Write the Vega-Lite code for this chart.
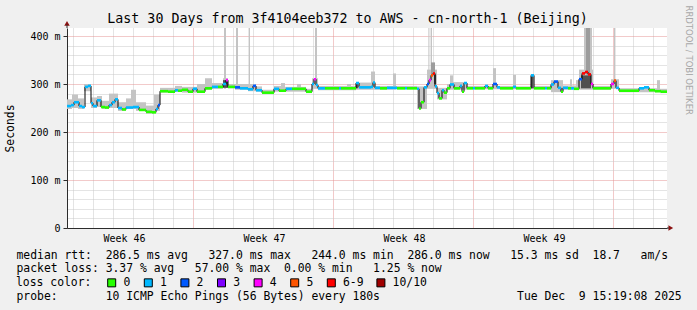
{
  "$schema": "https://vega.github.io/schema/vega-lite/v6.json",
  "width": 600,
  "height": 200,
  "autosize": {"type": "none"},
  "padding": {"left": 67, "top": 28, "right": 30, "bottom": 82},
  "background": "#f0f0f0",
  "config": {"view": {"stroke": null, "fill": "white"}, "font": "DejaVu Sans Mono", "axis": {"labelOverlap": false}},
  "title": {"text": "Last 30 Days from 3f4104eeb372 to AWS - cn-north-1 (Beijing)", "font": "DejaVu Sans Mono", "fontSize": 13.3, "fontWeight": "normal", "color": "black", "anchor": "middle", "frame": "group", "dx": -19.5, "offset": -31, "baseline": "alphabetic"},
  "datasets": {
    "median": [
      {"d":0,"e":0.2,"m":254,"l":"1"},{"d":0.2,"e":0.35,"m":256,"l":"1"},{"d":0.35,"e":0.6,"m":262,"l":"1"},{"d":0.6,"e":0.75,"m":254,"l":"1"},{"d":0.75,"e":0.9,"m":252,"l":"1"},{"d":0.9,"e":1.05,"m":294,"l":"1"},{"d":1.05,"e":1.2,"m":296,"l":"1"},{"d":1.2,"e":1.3,"m":260,"l":"1"},{"d":1.3,"e":1.5,"m":254,"l":"1"},{"d":1.5,"e":1.7,"m":266,"l":"1"},{"d":1.7,"e":1.9,"m":252,"l":"0"},{"d":1.9,"e":2.1,"m":251,"l":"0"},{"d":2.1,"e":2.25,"m":256,"l":"1"},{"d":2.25,"e":2.4,"m":262,"l":"1"},{"d":2.4,"e":2.55,"m":268,"l":"1"},{"d":2.55,"e":2.75,"m":250,"l":"1"},{"d":2.75,"e":2.95,"m":247,"l":"0"},{"d":2.95,"e":3.3,"m":251,"l":"1"},{"d":3.3,"e":3.6,"m":252,"l":"1"},{"d":3.6,"e":3.95,"m":246,"l":"0"},{"d":3.95,"e":4.25,"m":242,"l":"0"},{"d":4.25,"e":4.45,"m":241,"l":"0"},{"d":4.45,"e":4.55,"m":248,"l":"1"},{"d":4.55,"e":4.65,"m":256,"l":"2"},{"d":4.65,"e":5.05,"m":285,"l":"0"},{"d":5.05,"e":5.4,"m":284,"l":"0"},{"d":5.4,"e":5.55,"m":287,"l":"1"},{"d":5.55,"e":5.75,"m":286,"l":"0"},{"d":5.75,"e":6.05,"m":288,"l":"0"},{"d":6.05,"e":6.3,"m":284,"l":"0"},{"d":6.3,"e":6.5,"m":290,"l":"1"},{"d":6.5,"e":6.9,"m":284,"l":"0"},{"d":6.9,"e":7.25,"m":291,"l":"0"},{"d":7.25,"e":7.55,"m":294,"l":"1"},{"d":7.55,"e":7.8,"m":294,"l":"0"},{"d":7.8,"e":7.95,"m":300,"l":"1"},{"d":7.95,"e":8.05,"m":308,"l":"4"},{"d":8.05,"e":8.4,"m":294,"l":"0"},{"d":8.4,"e":8.65,"m":293,"l":"2"},{"d":8.65,"e":9.05,"m":291,"l":"1"},{"d":9.05,"e":9.3,"m":289,"l":"1"},{"d":9.3,"e":9.45,"m":296,"l":"2"},{"d":9.45,"e":9.75,"m":287,"l":"1"},{"d":9.75,"e":10.35,"m":282,"l":"0"},{"d":10.35,"e":10.6,"m":290,"l":"1"},{"d":10.6,"e":10.95,"m":286,"l":"0"},{"d":10.95,"e":11.25,"m":290,"l":"1"},{"d":11.25,"e":11.95,"m":290,"l":"0"},{"d":11.95,"e":12.25,"m":284,"l":"0"},{"d":12.25,"e":12.35,"m":300,"l":"1"},{"d":12.35,"e":12.45,"m":310,"l":"4"},{"d":12.45,"e":12.55,"m":298,"l":"1"},{"d":12.55,"e":12.9,"m":291,"l":"1"},{"d":12.9,"e":13.6,"m":291,"l":"0"},{"d":13.6,"e":13.7,"m":291,"l":"1"},{"d":13.7,"e":14.45,"m":291,"l":"0"},{"d":14.45,"e":14.6,"m":302,"l":"1"},{"d":14.6,"e":15.2,"m":293,"l":"1"},{"d":15.2,"e":15.3,"m":294,"l":"1"},{"d":15.3,"e":15.4,"m":303,"l":"1"},{"d":15.4,"e":15.65,"m":292,"l":"1"},{"d":15.65,"e":16,"m":291,"l":"0"},{"d":16,"e":16.5,"m":292,"l":"1"},{"d":16.5,"e":16.9,"m":291,"l":"0"},{"d":16.9,"e":17,"m":291,"l":"1"},{"d":17,"e":17.5,"m":291,"l":"0"},{"d":17.5,"e":17.6,"m":290,"l":"1"},{"d":17.6,"e":17.7,"m":249,"l":"0"},{"d":17.7,"e":17.85,"m":262,"l":"0"},{"d":17.85,"e":18,"m":293,"l":"1"},{"d":18,"e":18.1,"m":300,"l":"2"},{"d":18.1,"e":18.2,"m":308,"l":"4"},{"d":18.2,"e":18.3,"m":318,"l":"5"},{"d":18.3,"e":18.4,"m":322,"l":"6-9"},{"d":18.4,"e":18.5,"m":295,"l":"1"},{"d":18.5,"e":18.6,"m":281,"l":"1"},{"d":18.6,"e":18.75,"m":270,"l":"0"},{"d":18.75,"e":18.85,"m":287,"l":"1"},{"d":18.85,"e":19,"m":282,"l":"0"},{"d":19,"e":19.15,"m":291,"l":"0"},{"d":19.15,"e":19.35,"m":299,"l":"1"},{"d":19.35,"e":19.65,"m":291,"l":"0"},{"d":19.65,"e":19.75,"m":296,"l":"1"},{"d":19.75,"e":19.85,"m":284,"l":"0"},{"d":19.85,"e":20,"m":302,"l":"1"},{"d":20,"e":20.3,"m":291,"l":"0"},{"d":20.3,"e":20.4,"m":291,"l":"1"},{"d":20.4,"e":20.9,"m":291,"l":"0"},{"d":20.9,"e":21.05,"m":296,"l":"1"},{"d":21.05,"e":21.3,"m":291,"l":"0"},{"d":21.3,"e":21.5,"m":300,"l":"2"},{"d":21.5,"e":21.65,"m":293,"l":"1"},{"d":21.65,"e":22.3,"m":291,"l":"0"},{"d":22.3,"e":22.45,"m":294,"l":"1"},{"d":22.45,"e":23.2,"m":291,"l":"0"},{"d":23.2,"e":23.35,"m":318,"l":"1"},{"d":23.35,"e":23.9,"m":291,"l":"0"},{"d":23.9,"e":24,"m":291,"l":"1"},{"d":24,"e":24.2,"m":291,"l":"0"},{"d":24.2,"e":24.35,"m":299,"l":"1"},{"d":24.35,"e":24.55,"m":305,"l":"2"},{"d":24.55,"e":24.7,"m":292,"l":"1"},{"d":24.7,"e":24.8,"m":284,"l":"0"},{"d":24.8,"e":25.05,"m":292,"l":"1"},{"d":25.05,"e":25.2,"m":291,"l":"0"},{"d":25.2,"e":25.35,"m":291,"l":"1"},{"d":25.35,"e":25.6,"m":290,"l":"0"},{"d":25.6,"e":25.75,"m":310,"l":"2"},{"d":25.75,"e":25.9,"m":322,"l":"6-9"},{"d":25.9,"e":26.05,"m":325,"l":"6-9"},{"d":26.05,"e":26.2,"m":320,"l":"6-9"},{"d":26.2,"e":26.3,"m":300,"l":"4"},{"d":26.3,"e":27.2,"m":291,"l":"0"},{"d":27.2,"e":27.35,"m":300,"l":"4"},{"d":27.35,"e":27.45,"m":307,"l":"5"},{"d":27.45,"e":27.6,"m":292,"l":"1"},{"d":27.6,"e":28.6,"m":286,"l":"0"},{"d":28.6,"e":28.85,"m":291,"l":"1"},{"d":28.85,"e":29.1,"m":293,"l":"1"},{"d":29.1,"e":29.4,"m":287,"l":"0"},{"d":29.4,"e":29.7,"m":285,"l":"0"},{"d":29.7,"e":30,"m":284,"l":"0"}
    ],
    "smoke": [
      {"d":0,"e":0.25,"lo":248,"hi":268,"g":1},{"d":0.25,"e":0.55,"lo":250,"hi":278,"g":1},{"d":0.55,"e":0.85,"lo":248,"hi":270,"g":1},{"d":0.85,"e":1.2,"lo":285,"hi":300,"g":1},{"d":1.2,"e":1.5,"lo":250,"hi":272,"g":1},{"d":1.5,"e":1.75,"lo":252,"hi":275,"g":1},{"d":1.75,"e":2.1,"lo":248,"hi":265,"g":1},{"d":2.1,"e":2.55,"lo":250,"hi":280,"g":1},{"d":2.55,"e":2.95,"lo":244,"hi":262,"g":1},{"d":2.95,"e":3.2,"lo":248,"hi":270,"g":1},{"d":3.2,"e":3.45,"lo":248,"hi":288,"g":1},{"d":3.45,"e":3.95,"lo":244,"hi":262,"g":1},{"d":3.95,"e":4.35,"lo":238,"hi":255,"g":1},{"d":4.35,"e":4.65,"lo":244,"hi":278,"g":1},{"d":4.65,"e":5.4,"lo":282,"hi":292,"g":1},{"d":5.4,"e":5.75,"lo":284,"hi":296,"g":1},{"d":5.75,"e":6.5,"lo":282,"hi":294,"g":1},{"d":6.5,"e":6.9,"lo":282,"hi":300,"g":1},{"d":6.9,"e":7.25,"lo":288,"hi":312,"g":1},{"d":7.25,"e":7.8,"lo":290,"hi":302,"g":1},{"d":7.8,"e":8.05,"lo":292,"hi":312,"g":1},{"d":8.05,"e":8.4,"lo":291,"hi":300,"g":1},{"d":8.4,"e":9.05,"lo":288,"hi":300,"g":1},{"d":9.05,"e":9.45,"lo":285,"hi":300,"g":1},{"d":9.45,"e":9.75,"lo":284,"hi":295,"g":1},{"d":9.75,"e":10.35,"lo":279,"hi":288,"g":1},{"d":10.35,"e":10.7,"lo":284,"hi":296,"g":1},{"d":10.7,"e":10.9,"lo":284,"hi":302,"g":1},{"d":10.9,"e":11.5,"lo":284,"hi":294,"g":1},{"d":11.5,"e":11.7,"lo":284,"hi":300,"g":1},{"d":11.7,"e":11.95,"lo":284,"hi":294,"g":1},{"d":11.95,"e":12.25,"lo":281,"hi":290,"g":1},{"d":12.25,"e":12.55,"lo":290,"hi":312,"g":1},{"d":12.55,"e":14,"lo":287,"hi":296,"g":1},{"d":14,"e":14.2,"lo":287,"hi":300,"g":1},{"d":14.2,"e":14.45,"lo":287,"hi":296,"g":1},{"d":14.45,"e":15.2,"lo":288,"hi":303,"g":1},{"d":15.2,"e":15.4,"lo":288,"hi":326,"g":1},{"d":15.4,"e":16.3,"lo":288,"hi":296,"g":1},{"d":16.3,"e":16.45,"lo":288,"hi":322,"g":1},{"d":16.45,"e":17.5,"lo":289,"hi":296,"g":1},{"d":17.5,"e":18,"lo":248,"hi":295,"g":1},{"d":18,"e":18.5,"lo":290,"hi":330,"g":1},{"d":18.5,"e":19,"lo":268,"hi":292,"g":1},{"d":19,"e":19.15,"lo":288,"hi":300,"g":1},{"d":19.15,"e":19.3,"lo":288,"hi":318,"g":1},{"d":19.3,"e":20,"lo":288,"hi":304,"g":1},{"d":20,"e":21.3,"lo":289,"hi":296,"g":1},{"d":21.3,"e":21.45,"lo":289,"hi":333,"g":1},{"d":21.45,"e":22.3,"lo":289,"hi":296,"g":1},{"d":22.3,"e":22.45,"lo":289,"hi":319,"g":1},{"d":22.45,"e":23.2,"lo":289,"hi":295,"g":1},{"d":23.2,"e":23.35,"lo":289,"hi":319,"g":1},{"d":23.35,"e":24.2,"lo":289,"hi":296,"g":1},{"d":24.2,"e":24.8,"lo":283,"hi":308,"g":1},{"d":24.8,"e":25.15,"lo":288,"hi":297,"g":1},{"d":25.15,"e":25.25,"lo":288,"hi":310,"g":1},{"d":25.25,"e":25.45,"lo":288,"hi":297,"g":1},{"d":25.45,"e":25.6,"lo":288,"hi":308,"g":1},{"d":25.6,"e":26.3,"lo":288,"hi":330,"g":1},{"d":26.3,"e":27.2,"lo":288,"hi":296,"g":1},{"d":27.2,"e":27.6,"lo":290,"hi":310,"g":1},{"d":27.6,"e":29.5,"lo":283,"hi":291,"g":1},{"d":29.5,"e":29.65,"lo":283,"hi":308,"g":1},{"d":29.65,"e":30,"lo":281,"hi":290,"g":1},
      {"d":7.85,"e":7.95,"lo":290,"hi":420,"g":1},{"d":8.45,"e":8.55,"lo":290,"hi":420,"g":1},{"d":9.08,"e":9.15,"lo":288,"hi":420,"g":1},{"d":12.4,"e":12.5,"lo":300,"hi":420,"g":1},{"d":18.07,"e":18.12,"lo":300,"hi":420,"g":1},{"d":18.18,"e":18.25,"lo":300,"hi":420,"g":1},{"d":25.85,"e":26.25,"lo":300,"hi":420,"g":1},{"d":27.35,"e":27.42,"lo":300,"hi":420,"g":1},
      {"d":18.2,"e":18.4,"lo":320,"hi":345,"g":2},{"d":25.95,"e":26.15,"lo":320,"hi":420,"g":2},
      {"d":7.8,"e":8.05,"lo":292,"hi":308,"g":3},{"d":25.7,"e":26.2,"lo":291,"hi":318,"g":3},{"d":23.2,"e":23.3,"lo":291,"hi":318,"g":3},{"d":14.45,"e":14.55,"lo":291,"hi":304,"g":3},{"d":18.35,"e":18.45,"lo":300,"hi":320,"g":3}
    ]
  },
  "resolve": {"axis": {"x": "independent", "y": "independent"}},
  "layer": [
    {
      "data": {"name": "smoke"},
      "mark": {"type": "rect", "clip": true},
      "encoding": {
        "x": {"field": "d", "type": "quantitative", "scale": {"domain": [0, 30], "nice": false, "zero": false},
          "axis": {
            "orient": "bottom",
            "values": [0.3,1.3,2.3,3.3,4.3,5.3,6.3,7.3,8.3,9.3,10.3,11.3,12.3,13.3,14.3,15.3,16.3,17.3,18.3,19.3,20.3,21.3,22.3,23.3,24.3,25.3,26.3,27.3,28.3,29.3],
            "labels": false, "ticks": false, "domain": false, "title": null,
            "grid": true,
            "gridColor": {"condition": {"test": "indexof([63, 133, 203, 273], round(datum.value * 10)) >= 0", "value": "#e49494"}, "value": "#c8c8c8"},
            "gridDash": [1, 1]
          }},
        "x2": {"field": "e"},
        "y": {"field": "lo", "type": "quantitative", "scale": {"domain": [0, 416.67], "nice": false, "zero": true},
          "axis": {
            "orient": "left",
            "values": [0,20,40,60,80,100,120,140,160,180,200,220,240,260,280,300,320,340,360,380,400],
            "labelExpr": "datum.value == 0 ? '\u00a0\u00a00\u00a0\u00a0' : (datum.value % 100 == 0 ? datum.value + '\u00a0m' : '')",
            "labelFont": "DejaVu Sans Mono", "labelFontSize": 10, "labelColor": "black", "labelPadding": 3, "labelOverlap": false,
            "tickSize": 4,
            "tickColor": {"condition": {"test": "datum.value % 100 == 0", "value": "#2c2c2c"}, "value": "transparent"},
            "grid": true,
            "gridColor": {"condition": {"test": "datum.value % 100 == 0", "value": "#e49494"}, "value": "#c8c8c8"},
            "gridDash": [1, 1],
            "domainColor": "#2c2c2c",
            "title": "Seconds", "titleX": -57, "titleY": 100, "titleAngle": -90, "titleAlign": "center", "titleBaseline": "middle",
            "titleFont": "DejaVu Sans Mono", "titleFontSize": 11.4, "titleFontWeight": "normal", "titleColor": "black"
          }},
        "y2": {"field": "hi"},
        "fill": {"field": "g", "type": "ordinal", "scale": {"domain": [1, 2, 3], "range": ["#c4c4c4", "#9c9c9c", "#505050"]}, "legend": null}
      }
    },
    {
      "data": {"name": "median"},
      "mark": {"type": "line", "interpolate": "step-after", "color": "black", "strokeWidth": 1, "clip": true},
      "encoding": {
        "x": {"field": "d", "type": "quantitative",
          "axis": {
            "orient": "bottom",
            "values": [2.85, 9.85, 16.85, 23.85],
            "labelExpr": "'Week ' + (46 + floor(datum.value / 7))",
            "labelOverlap": false, "labelFlush": false, "labelBound": false,
            "labelFont": "DejaVu Sans Mono", "labelFontSize": 10, "labelColor": "black", "labelPadding": 5,
            "ticks": false, "grid": false,
            "domainColor": "#2c2c2c",
            "title": ["median\u00a0rtt:\u00a0\u00a0286.5\u00a0ms\u00a0avg\u00a0\u00a0\u00a0327.0\u00a0ms\u00a0max\u00a0\u00a0\u00a0244.0\u00a0ms\u00a0min\u00a0\u00a0286.0\u00a0ms\u00a0now\u00a0\u00a0\u00a015.3\u00a0ms\u00a0sd\u00a0\u00a018.7\u00a0\u00a0\u00a0am/s", "packet\u00a0loss:\u00a03.37\u00a0%\u00a0avg\u00a0\u00a0\u00a057.00\u00a0%\u00a0max\u00a0\u00a00.00\u00a0%\u00a0min\u00a0\u00a0\u00a01.25\u00a0%\u00a0now", "\u200b", "probe:\u00a0\u00a0\u00a0\u00a0\u00a0\u00a0\u00a010\u00a0ICMP\u00a0Echo\u00a0Pings\u00a0(56\u00a0Bytes)\u00a0every\u00a0180s\u00a0\u00a0\u00a0\u00a0\u00a0\u00a0\u00a0\u00a0\u00a0\u00a0\u00a0\u00a0\u00a0\u00a0\u00a0\u00a0\u00a0\u00a0\u00a0\u00a0Tue\u00a0Dec\u00a0\u00a09\u00a015:19:08\u00a02025"],
            "titleX": -51, "titleY": 30, "titleAlign": "left", "titleBaseline": "alphabetic", "titleLineHeight": 13.8,
            "titleFont": "DejaVu Sans Mono", "titleFontSize": 11.4, "titleFontWeight": "normal", "titleColor": "black"
          }},
        "y": {"field": "m", "type": "quantitative",
          "axis": {"orient": "right", "labels": false, "ticks": false, "domain": false, "grid": false,
            "title": "RRDTOOL / TOBI OETIKER", "titleAngle": 90, "titleX": 21, "titleY": -23, "titleAlign": "left", "titleBaseline": "middle",
            "titleFont": "DejaVu Sans", "titleFontSize": 8.5, "titleFontWeight": "normal", "titleColor": "#a8a8a8"}}
      }
    },
    {
      "data": {"name": "median"},
      "mark": {"type": "rect", "yOffset": -1.3, "y2Offset": 1.3, "clip": true},
      "encoding": {
        "x": {"field": "d", "type": "quantitative", "axis": null},
        "x2": {"field": "e"},
        "y": {"field": "m", "type": "quantitative", "axis": null},
        "y2": {"field": "m"},
        "color": {"field": "l", "type": "nominal",
          "scale": {"domain": ["0", "1", "2", "3", "4", "5", "6-9", "10/10"], "range": ["#26ff00", "#00b8ff", "#0059ff", "#7e00ff", "#ff00ff", "#ff5500", "#ff0000", "#a10000"]},
          "legend": {"orient": "none", "legendX": -51, "legendY": 249, "direction": "horizontal", "title": "loss color:", "titleOrient": "left",
            "titleFont": "DejaVu Sans Mono", "titleFontSize": 11.4, "titleFontWeight": "normal", "titleColor": "black", "titlePadding": 14,
            "labelFont": "DejaVu Sans Mono", "labelFontSize": 11.4, "labelColor": "black", "labelOffset": 6, "columnPadding": 10.6,
            "symbolType": "square", "symbolSize": 64, "symbolStrokeColor": "black", "symbolStrokeWidth": 1, "symbolOpacity": 1, "padding": 0}}
      }
    },
    {
      "data": {"values": [{}]},
      "mark": {"type": "point", "shape": "triangle-up", "filled": true, "size": 30, "color": "#8b1010", "opacity": 1, "clip": false},
      "encoding": {"x": {"datum": 0, "axis": null}, "y": {"datum": 426.5, "axis": null}}
    },
    {
      "data": {"values": [{}]},
      "mark": {"type": "point", "shape": "triangle-right", "filled": true, "size": 30, "color": "#8b1010", "opacity": 1, "clip": false},
      "encoding": {"x": {"datum": 30.19, "axis": null}, "y": {"datum": 0, "axis": null}}
    },
    {
      "data": {"values": [{}]},
      "mark": {"type": "rule", "color": "#2c2c2c", "clip": false},
      "encoding": {"x": {"datum": 0, "axis": null}, "y": {"datum": 416.67, "axis": null}, "y2": {"datum": 424}}
    },
    {
      "data": {"values": [{}]},
      "mark": {"type": "rule", "color": "#2c2c2c", "clip": false},
      "encoding": {"x": {"datum": 30, "axis": null}, "x2": {"datum": 30.1}, "y": {"datum": 0, "axis": null}}
    }
  ]
}
